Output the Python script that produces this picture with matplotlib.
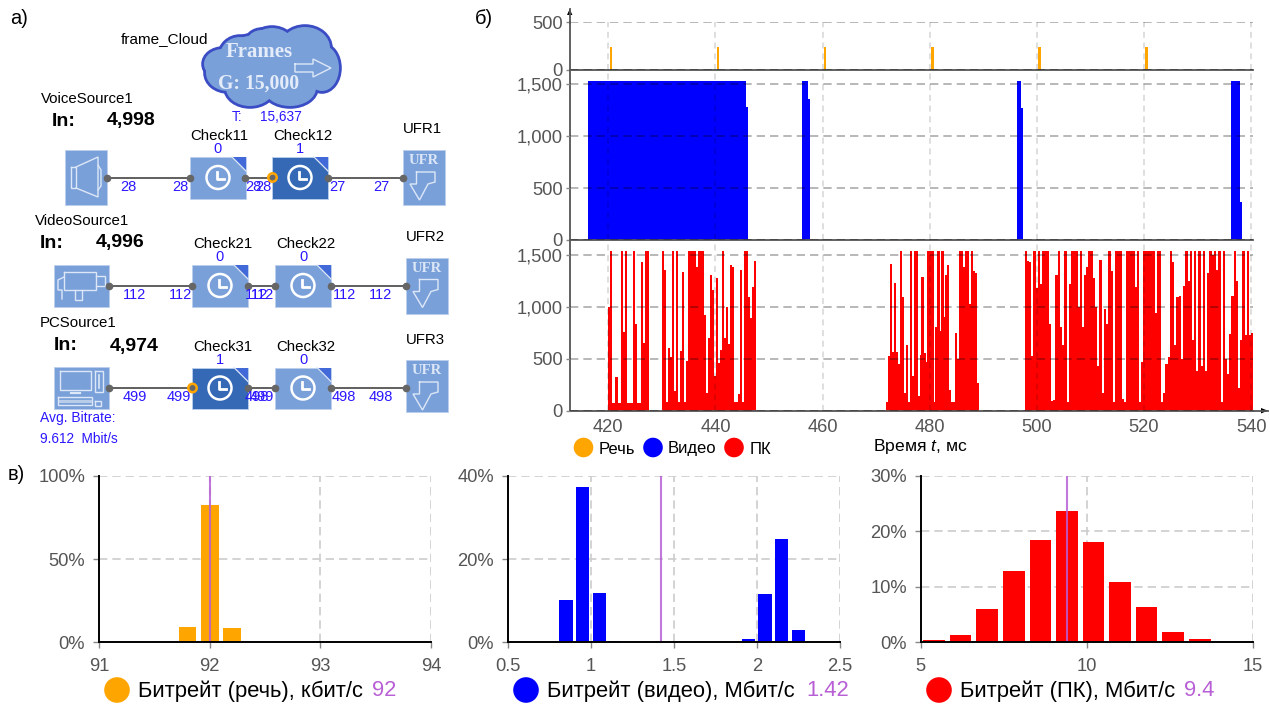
"""Traffic model diagram, packet size timelines and bitrate histograms."""
import matplotlib
matplotlib.use('Agg')
import matplotlib.pyplot as plt
from matplotlib.patches import Circle, Ellipse, Polygon, Rectangle
import numpy as np

W, H = 1270, 704

plt.rcParams['font.family'] = ['Liberation Sans', 'DejaVu Sans']
plt.rcParams['mathtext.fontset'] = 'custom'
plt.rcParams['mathtext.it'] = 'Liberation Sans:italic'
plt.rcParams['mathtext.rm'] = 'Liberation Sans'

ORANGE = '#FFA500'
BLUE = '#0000FF'
RED = '#FF0000'
PURPLE = '#B85FD6'
TICK_GRAY = '#555555'
LINK_BLUE = '#2B17FF'
BLOCK = '#7AA0D9'
BLOCK_DARK = '#3569B6'

# timeline data
time_ticks = [420, 440, 460, 480, 500, 520, 540]
voice_times = [420.5, 440.5, 460.5, 480.5, 500.5, 520.5]
voice_sizes = [236, 236, 236, 236, 236, 236]

video_starts = [416.3, 445.8, 456.2, 457.3, 496.3, 497.0, 536.2, 537.9]
video_widths = [29.5, 0.3, 1.1, 0.35, 0.7, 0.35, 1.7, 0.35]
video_sizes = [1534, 1280, 1534, 1353, 1534, 1266, 1534, 365]

pc_burst_ranges = [(419.9, 427.5), (430.0, 447.6), (471.8, 489.2), (497.7, 540.4)]
pc_burst_1 = [1000, 1534, 75, 75, 320, 75, 75, 1534, 760, 1534, 75, 75, 75, 1534,
              830, 75, 75, 1430, 650, 1534, 1534]
pc_burst_2 = [1534, 1350, 85, 600, 520, 1534, 190, 1534, 80, 570, 1330, 80, 480,
              1534, 1534, 1534, 1534, 1380, 1534, 1534, 1534, 920, 170, 700, 1300,
              1160, 330, 1280, 460, 580, 1534, 700, 1000, 640, 1400, 1380, 80, 80,
              160, 1350, 80, 1534, 1534, 1090, 890, 1190, 1440]
pc_burst_3 = [80, 530, 1410, 560, 1230, 560, 450, 1534, 1090, 170, 630, 80, 1534,
              330, 1534, 1534, 140, 540, 1290, 550, 470, 1534, 1534, 1534, 80, 800,
              1534, 770, 1534, 900, 1300, 1400, 200, 80, 80, 750, 500, 1534, 1534,
              1380, 1534, 1534, 1030, 1534, 1340, 1320, 270]
pc_burst_4 = [1534, 1440, 1430, 530, 1534, 1180, 1534, 1220, 1534, 1534, 1534, 830,
              90, 100, 1300, 1534, 800, 630, 1534, 80, 1220, 1534, 1534, 1534, 1000,
              1534, 800, 1300, 1380, 1534, 1534, 1275, 1000, 430, 1450, 170, 980,
              830, 1534, 1340, 80, 1534, 1534, 1534, 110, 80, 1534, 1534, 1534, 1534,
              1190, 1534, 80, 470, 1534, 1534, 1534, 1534, 1534, 940, 1534, 1534,
              80, 170, 450, 520, 1534, 1430, 630, 1090, 1100, 500, 1200, 1534, 1250,
              1534, 680, 1534, 380, 1534, 430, 1534, 380, 1320, 1534, 1500, 1534,
              1350, 1534, 80, 1534, 500, 350, 740, 1100, 1534, 1250, 220, 680, 1534,
              730, 1534, 730, 750]

# histogram data
voice_bins = [91.8, 92.0, 92.2]
voice_share = [9.2, 82.4, 8.4]
video_bins = [0.85, 0.95, 1.05, 1.15, 1.95, 2.05, 2.15, 2.25]
video_share = [10.1, 37.2, 11.9, 0.3, 0.9, 11.5, 24.9, 3.0]
pc_bins = [5.4, 6.2, 7.0, 7.8, 8.6, 9.4, 10.2, 11.0, 11.8, 12.6, 13.4]
pc_share = [0.4, 1.3, 6.0, 12.8, 18.4, 23.6, 18.1, 10.8, 6.3, 1.8, 0.6]

voice_mean, video_mean, pc_mean = 92, 1.42, 9.4

fig = plt.figure(figsize=(W / 100, H / 100), dpi=100)


def px_axes(left, top, right, bottom):
    ax = fig.add_axes([left / W, 1 - bottom / H, (right - left) / W, (bottom - top) / H])
    ax.patch.set_alpha(0)
    return ax


ov = fig.add_axes([0, 0, 1, 1], zorder=5)
ov.set_xlim(0, W)
ov.set_ylim(H, 0)
ov.axis('off')


def label(x, y, s, size=10.8, color='black', ha='left', **kw):
    ov.text(x, y, s, fontsize=size, color=color, ha=ha, va='center', **kw)


def outline(points, closed=False, lw=1.0, color='#DCE7F7'):
    xs, ys = zip(*points)
    if closed:
        xs, ys = xs + xs[:1], ys + ys[:1]
    ov.plot(xs, ys, color=color, lw=lw, solid_joinstyle='miter')


def check_block(x0, y0, dark=False):
    w, h = 56, 41.5
    ov.add_patch(Rectangle((x0, y0), w, h, fc=BLOCK_DARK if dark else BLOCK, ec='#BBD0EE', lw=0.6))
    ov.add_patch(Polygon([(x0 + w - 14, y0), (x0 + w, y0), (x0 + w, y0 + 14)], fc='#4169D8', ec='none'))
    ov.plot([x0 + w - 14, x0 + w], [y0, y0 + 14], color='#DCE7F7', lw=0.9)
    cx, cy = x0 + 28, y0 + 20.5
    ov.add_patch(Circle((cx, cy), 11.5, fc='none', ec='white', lw=1.8))
    ov.plot([cx - 1, cx - 1, cx + 6], [cy - 6, cy + 1, cy + 1], color='white', lw=2)


def ufr_block(x0, y0, h=55):
    ov.add_patch(Rectangle((x0, y0), 42, h, fc=BLOCK, ec='#BBD0EE', lw=0.6))
    label(x0 + 21, y0 + 11, 'UFR', size=10.5, color='#DCE7F7', ha='center',
          family='Liberation Serif', weight='bold')
    outline([(x0 + 14, y0 + 22), (x0 + 32.5, y0 + 22), (x0 + 32.5, y0 + 32), (x0 + 25.5, y0 + 34),
             (x0 + 17, y0 + 50), (x0 + 7.5, y0 + 34), (x0 + 14, y0 + 34)], closed=True)


def wires(y, xs):
    for a, b in xs:
        ov.plot([a, b], [y, y], color='#444444', lw=1.2, zorder=2)
        ov.plot([a, b], [y, y], 'o', color='#666666', ms=4.5, zorder=3)


def blue_numbers(y, items):
    for x, s in items:
        label(x, y, s, size=10.5, color=LINK_BLUE, ha='center')


# panel letters
label(10, 18, 'а)', size=14.5)
label(475, 18, 'б)', size=14.5)
label(8, 474, 'в)', size=14.5)

# cloud source
cloud = [(272, 66, 118, 66), (240, 56, 40, 38), (272, 48, 46, 40), (305, 48, 50, 42), (228, 73, 44, 36),
         (250, 88, 48, 36), (290, 88, 52, 36), (322, 68, 34, 46), (223, 64, 38, 30), (262, 42, 30, 24)]
for cx, cy, w, h in cloud:
    ov.add_patch(Ellipse((cx, cy), w, h, fc='#3B4DC4', ec='#3B4DC4', lw=4, zorder=1))
for cx, cy, w, h in cloud:
    ov.add_patch(Ellipse((cx, cy), w, h, fc=BLOCK, ec='none', zorder=1.5))
label(121, 39, 'frame_Cloud', size=11)
label(226, 52, 'Frames', size=15, color='#E4ECF9', family='Liberation Serif', weight='bold', zorder=4)
label(218, 84, 'G: 15,000', size=14.2, color='#E4ECF9', family='Liberation Serif', weight='bold', zorder=4)
outline([(295, 64), (313, 64), (313, 59), (331, 68), (313, 77), (313, 72), (295, 72)], closed=True, lw=1.0)
label(232, 117, 'T:', size=9.8, color=LINK_BLUE)
label(260, 117, '15,637', size=9.8, color=LINK_BLUE)

# voice row
label(41, 99, 'VoiceSource1')
label(52, 121, 'In:', size=14, weight='bold')
label(107, 121, '4,998', size=14, weight='bold')
wires(177.5, [(107, 190), (245, 272), (328, 402.5)])
ov.add_patch(Rectangle((65, 150), 42, 55, fc=BLOCK, ec='#BBD0EE', lw=0.6))
outline([(71, 167), (76, 167), (76, 188), (71, 188)], closed=True)
outline([(76, 167), (98, 157), (98, 197), (76, 188)])
outline([(98, 165), (101, 170), (101, 186), (98, 190)])
check_block(190, 157)
check_block(272, 157, dark=True)
ufr_block(402.5, 150)
ov.add_patch(Circle((272.5, 177.5), 4.2, fc='none', ec=ORANGE, lw=1.8, zorder=4))
label(190, 136, 'Check11')
label(273, 136, 'Check12')
label(403, 129, 'UFR1')
blue_numbers(149, [(217, '0'), (300, '1')])
blue_numbers(187, [(128, '28'), (180, '28'), (253, '28'), (263, '28'), (337, '27'), (381, '27')])

# video row
label(35, 221, 'VideoSource1')
label(40, 243, 'In:', size=14, weight='bold')
label(96, 243, '4,996', size=14, weight='bold')
wires(285.7, [(109, 192), (248, 275), (331, 405.5)])
ov.add_patch(Rectangle((53.5, 265), 55.5, 41.5, fc=BLOCK, ec='#BBD0EE', lw=0.6))
outline([(64, 272), (96, 272), (96, 290), (64, 290)], closed=True)
outline([(96, 276), (105, 276), (105, 286), (96, 286)])
outline([(64, 277), (58, 280), (58, 290), (62, 290), (62, 299)])
outline([(75, 290), (75, 300), (82, 300), (82, 290)])
check_block(192, 265)
check_block(275, 265)
ufr_block(405.5, 257.5, h=56)
label(193, 244, 'Check21')
label(276, 244, 'Check22')
label(406, 237, 'UFR2')
blue_numbers(257, [(220, '0'), (303, '0')])
blue_numbers(295, [(134.7, '112'), (180, '112'), (257, '112'), (262, '112'), (344, '112'), (381, '112')])

# PC row
label(40, 323, 'PCSource1')
label(54, 346, 'In:', size=14, weight='bold')
label(110, 346, '4,974', size=14, weight='bold')
wires(388, [(109, 192), (248, 275), (331, 405.5)])
ov.add_patch(Rectangle((53.5, 367), 55.5, 42, fc=BLOCK, ec='#BBD0EE', lw=0.6))
outline([(60, 371), (91, 371), (91, 390), (60, 390)], closed=True)
outline([(71, 393), (80, 393)], lw=1.6)
outline([(58, 397), (92, 397), (92, 405), (58, 405)], closed=True)
outline([(60, 401), (90, 401)], lw=2.2, color='#B9CDEB')
outline([(95, 371), (103, 371), (103, 392), (95, 392)], closed=True)
outline([(99, 375), (99, 388)], lw=1.2)
outline([(95, 401), (101, 401), (101, 406), (95, 406)], closed=True)
check_block(192, 367.5, dark=True)
check_block(275, 367.5)
ufr_block(405.5, 360, h=52)
ov.add_patch(Circle((192.5, 388), 4.2, fc='none', ec=ORANGE, lw=1.8, zorder=4))
label(193, 347, 'Check31')
label(276, 347, 'Check32')
label(406, 340, 'UFR3')
blue_numbers(360, [(220, '1'), (303, '0')])
blue_numbers(397, [(134.7, '499'), (179, '499'), (257, '498'), (262, '499'), (344, '498'), (381, '498')])
label(40, 418, 'Avg. Bitrate:', size=10, color=LINK_BLUE)
label(40, 439, '9.612  Mbit/s', size=9.8, color=LINK_BLUE)


# timelines
def timeline_axes(top, bottom, ymax, yticks):
    ax = px_axes(569.7, top, 1253.3, bottom)
    ax.set_xlim(412.8, 540.4)
    ax.set_ylim(0, ymax)
    ax.set_xticks(time_ticks)
    ax.set_yticks(yticks)
    ax.set_yticklabels([f'{t:,}' for t in yticks])
    ax.tick_params(axis='y', length=3, width=1, color='#888888', labelcolor=TICK_GRAY, labelsize=13.2, pad=2)
    ax.tick_params(axis='x', length=0, labelbottom=False)
    ax.set_axisbelow(False)
    ax.grid(True, axis='x', color='#000000', alpha=0.16, lw=1.1, ls=(0, (4, 3)))
    ax.grid(True, axis='y', color='#000000', alpha=0.33, lw=1.2, ls=(0, (5, 3)))
    for s in ('top', 'right'):
        ax.spines[s].set_visible(False)
    ax.spines['left'].set_color('#555555')
    ax.spines['left'].set_linewidth(1.3)
    ax.spines['bottom'].set_color('#555555')
    ax.spines['bottom'].set_linewidth(1.3)
    return ax


ax_voice = timeline_axes(22.3, 70, 500, [0, 500])
ax_voice.bar(voice_times, voice_sizes, width=0.45, color=ORANGE)

ax_video = timeline_axes(70, 240, 1635, [0, 500, 1000, 1500])
ax_video.bar(video_starts, video_sizes, width=video_widths, align='edge', color=BLUE, lw=0)

ax_pc = timeline_axes(240, 410.7, 1641, [0, 500, 1000, 1500])
pc_bursts = [pc_burst_1, pc_burst_2, pc_burst_3, pc_burst_4]
for (start, end), sizes in zip(pc_burst_ranges, pc_bursts):
    edges = np.linspace(start, end, len(sizes), endpoint=False)
    step = (end - start) / len(sizes)
    ax_pc.bar(edges, sizes, width=step * 1.12, align='edge', color=RED, lw=0)
ax_pc.set_xticks(time_ticks)
ax_pc.tick_params(axis='x', labelbottom=True, labelcolor=TICK_GRAY, labelsize=13.2, pad=6)

# arrow heads on the timeline axes
ov.plot([569.7, 569.7], [9, 23], color='#555555', lw=1.3)
ov.add_patch(Polygon([(569.7, 9), (567, 15), (572.4, 15)], fc='black', ec='none'))
ov.plot([1253, 1268], [410.7, 410.7], color='#555555', lw=1.3)
ov.add_patch(Polygon([(1268, 410.7), (1261, 408), (1261, 413.4)], fc='black', ec='none'))

# timeline legend
for cx, col, x, s in [(583.5, ORANGE, 599, 'Речь'), (653, BLUE, 668, 'Видео'), (734, RED, 750, 'ПК')]:
    ov.add_patch(Circle((cx, 447.5), 9.8, fc=col, ec='none'))
    label(x, 449, s, size=12)
label(873, 447, 'Время $\\mathit{t}$, мс', size=12.6)


# histograms
def hist_axes(left, right, xlim, xticks, xlabels, ymax, yticks, bins, share, width, color, mean):
    ax = px_axes(left, 475.7, right, 642.3)
    ax.set_xlim(*xlim)
    ax.set_ylim(0, ymax)
    ax.set_xticks(xticks)
    ax.set_xticklabels(xlabels)
    ax.set_yticks(yticks)
    ax.set_yticklabels([f'{t}%' for t in yticks])
    ax.tick_params(length=4, width=1, color='#888888', labelcolor=TICK_GRAY, labelsize=13.2, pad=6)
    ax.tick_params(axis='x', pad=7)
    ax.set_axisbelow(True)
    ax.grid(True, color='#CCCCCC', lw=1.2, ls=(0, (5, 3)))
    ax.bar(bins, share, width=width, color=color, lw=0)
    ax.axvline(mean, color=PURPLE, lw=1.5, alpha=0.85)
    for s in ('top', 'right'):
        ax.spines[s].set_visible(False)
    for s in ('left', 'bottom'):
        ax.spines[s].set_linewidth(1.4)
    return ax


hist_axes(99, 431, (91, 94), [91, 92, 93, 94], ['91', '92', '93', '94'], 100, [0, 50, 100],
          voice_bins, voice_share, 0.16, ORANGE, voice_mean)
hist_axes(508, 839.7, (0.5, 2.5), [0.5, 1, 1.5, 2, 2.5], ['0.5', '1', '1.5', '2', '2.5'], 40, [0, 20, 40],
          video_bins, video_share, 0.08, BLUE, video_mean)
hist_axes(920.7, 1253, (5, 15), [5, 10, 15], ['5', '10', '15'], 30, [0, 10, 20, 30],
          pc_bins, pc_share, 0.65, RED, pc_mean)

# histogram captions
captions = [(117, ORANGE, 138, 'Битрейт (речь), кбит/с', 372, '92'),
            (526, BLUE, 547, 'Битрейт (видео), Мбит/с', 806, '1.42'),
            (939, RED, 960, 'Битрейт (ПК), Мбит/с', 1184, '9.4')]
for cx, col, x, s, mx, m in captions:
    ov.add_patch(Circle((cx, 690), 12.8, fc=col, ec='none'))
    label(x, 691, s, size=15.8)
    label(mx, 691, m, size=15.8, color=PURPLE)

fig.savefig('out.png', dpi=100)
